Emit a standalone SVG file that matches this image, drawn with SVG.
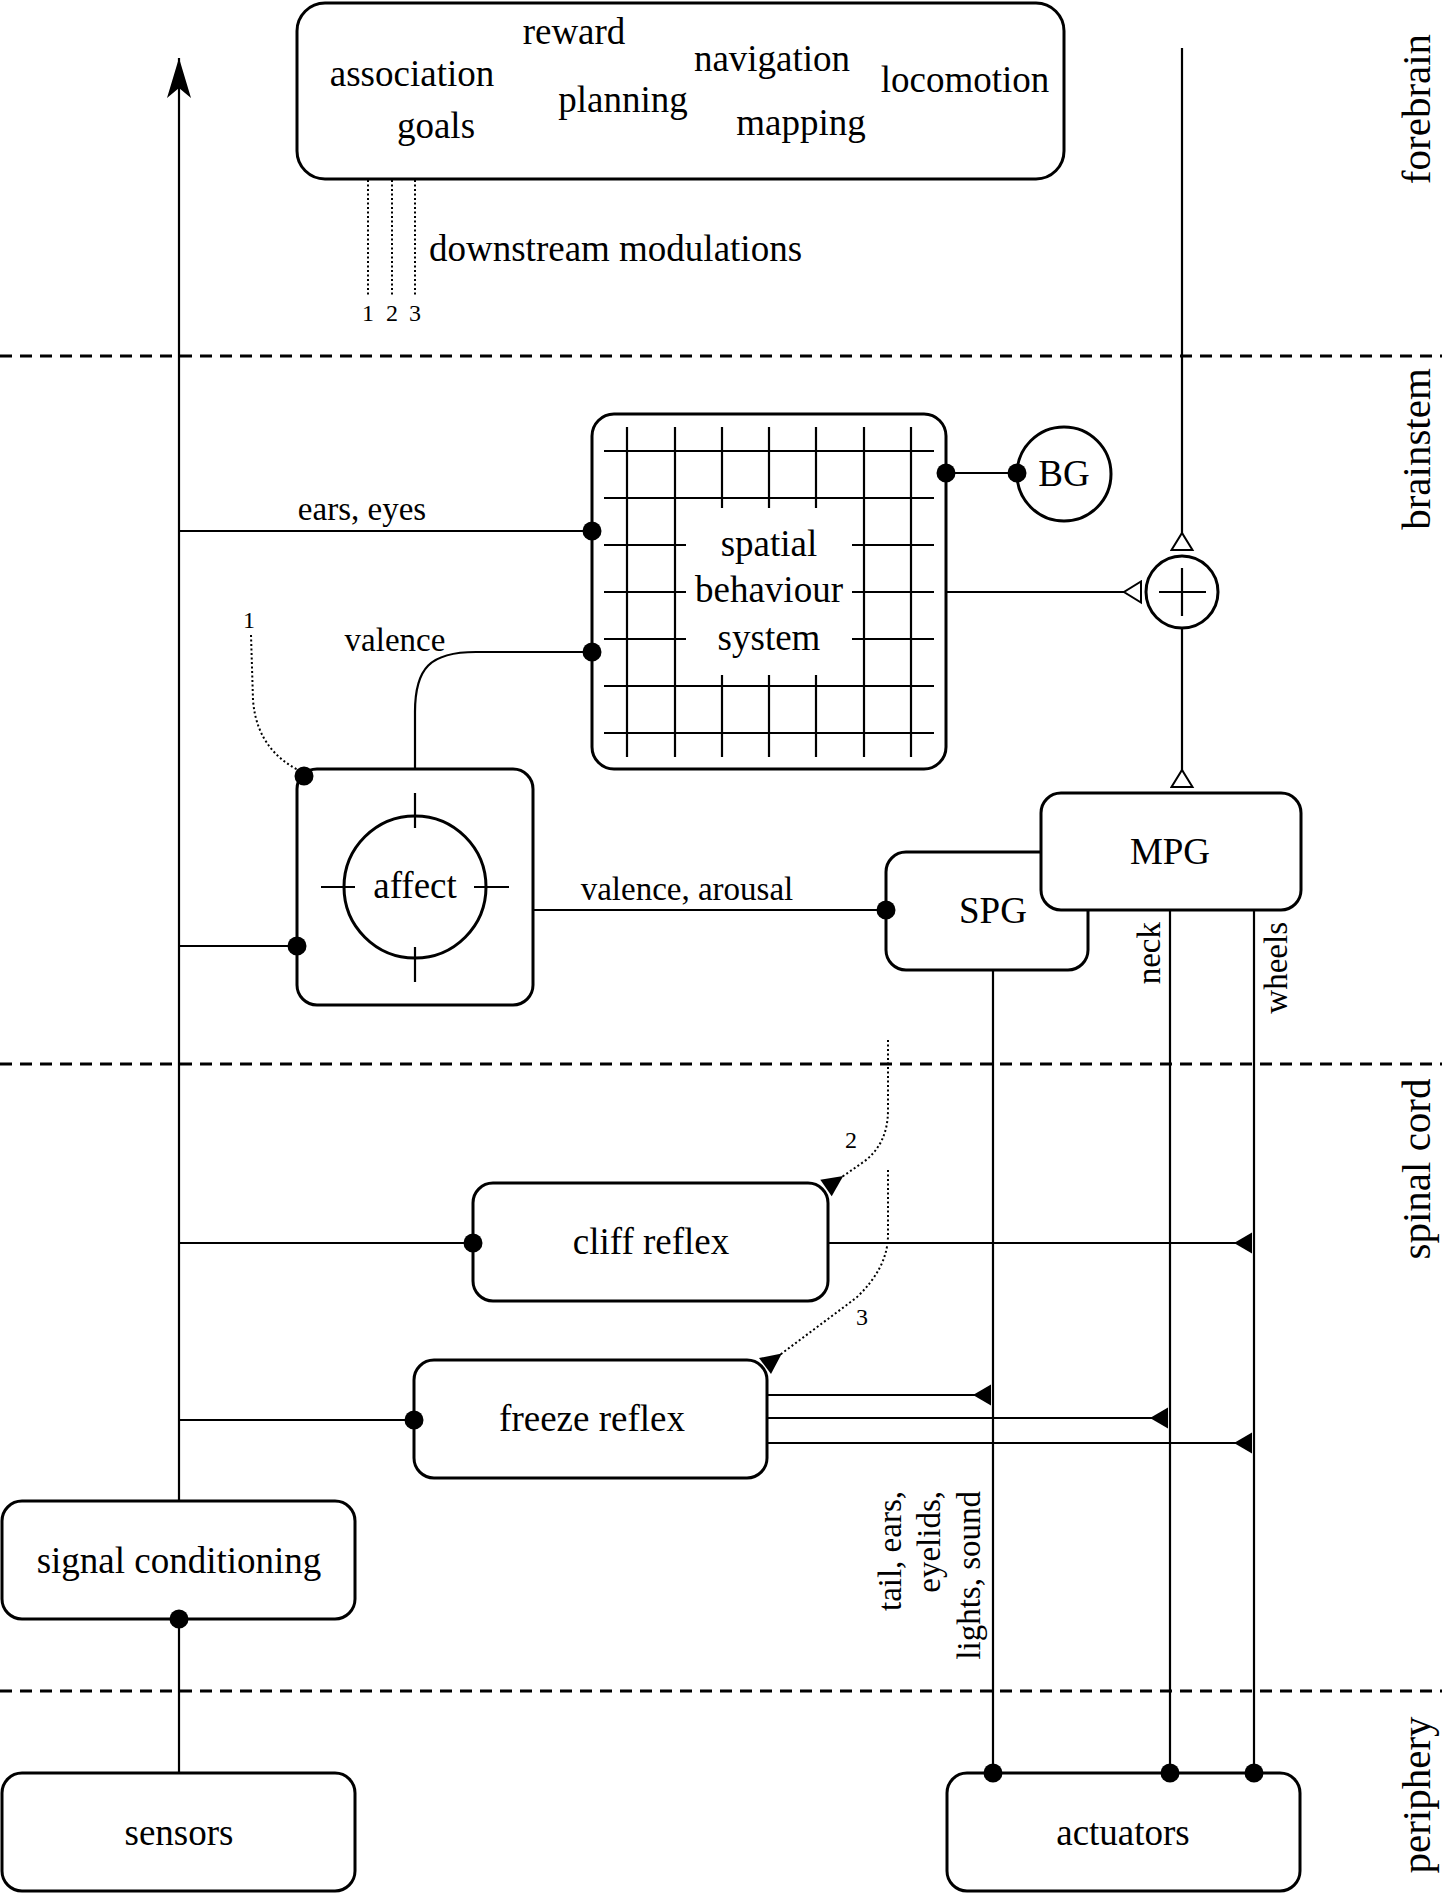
<svg xmlns="http://www.w3.org/2000/svg" width="1442" height="1893" viewBox="0 0 1442 1893">
<style>
text { font-family: "Liberation Serif", "Times New Roman", serif; fill: #000; }
.t { font-size: 37px; text-anchor: middle; }
.e { font-size: 33px; }
.m { text-anchor: middle; }
.en { text-anchor: end; }
.st { text-anchor: start; }
.s { font-size: 24px; text-anchor: middle; }
.side { font-size: 41px; text-anchor: middle; }
.box { fill: #fff; stroke: #000; stroke-width: 3; }
.ln { fill: none; stroke: #000; stroke-width: 2.2; }
.grid { fill: none; stroke: #000; stroke-width: 2.2; }
.sep { fill: none; stroke: #000; stroke-width: 3; stroke-dasharray: 12 8; }
.dt { fill: none; stroke: #000; stroke-width: 2; stroke-dasharray: 2 2.5; }
.dot { fill: #000; }
</style>
<defs>
<marker id="stealth" markerUnits="userSpaceOnUse" viewBox="0 0 40 24" refX="40" refY="12" markerWidth="40" markerHeight="24" orient="auto">
<path d="M40,12 L0,0 L10,12 L0,24 z" fill="#000"/>
</marker>
<marker id="fa" markerUnits="userSpaceOnUse" viewBox="0 0 20 24" refX="19" refY="12" markerWidth="20" markerHeight="24" orient="auto">
<path d="M19,1.5 L19,22.5 L1,12 z" fill="#000"/>
</marker>
<marker id="fd" markerUnits="userSpaceOnUse" viewBox="0 0 24 22" refX="22" refY="11" markerWidth="24" markerHeight="22" orient="auto">
<path d="M22,1 L22,21 L1,11 z" fill="#000"/>
</marker>
<marker id="tri" markerUnits="userSpaceOnUse" viewBox="0 0 21 25" refX="19" refY="12.5" markerWidth="21" markerHeight="25" orient="auto">
<path d="M19,2 L19,23 L2,12.5 z" fill="#fff" stroke="#000" stroke-width="2"/>
</marker>
</defs>

<g id="separators">
<path class="sep" d="M0,356 L1442,356 M0,1064 L1442,1064 M0,1691 L1442,1691"/>
</g>

<g id="region-labels">
<text class="side" transform="translate(1430,109) rotate(-90)">forebrain</text>
<text class="side" transform="translate(1430,449) rotate(-90)">brainstem</text>
<text class="side" transform="translate(1430,1169) rotate(-90)">spinal cord</text>
<text class="side" transform="translate(1430,1795) rotate(-90)">periphery</text>
</g>

<g id="forebrain">
<rect class="box" x="297" y="3" width="767" height="176" rx="28"/>
<text class="t" x="574" y="44">reward</text>
<text class="t" x="412" y="86">association</text>
<text class="t" x="772" y="71">navigation</text>
<text class="t" x="965" y="92">locomotion</text>
<text class="t" x="623" y="112">planning</text>
<text class="t" x="436" y="138">goals</text>
<text class="t" x="801" y="135">mapping</text>
</g>

<g id="spatial-behaviour-system">
<rect class="box" x="592" y="414" width="354" height="355" rx="22"/>
<path class="grid" d="M627,427 L627,757 M675,427 L675,757 M864,427 L864,757 M911,427 L911,757 M722,427 L722,508 M769,427 L769,508 M816,427 L816,508 M722,675 L722,757 M769,675 L769,757 M816,675 L816,757 M604,451 L934,451 M604,498 L934,498 M604,686 L934,686 M604,733 L934,733 M604,545 L686,545 M852,545 L934,545 M604,592 L686,592 M852,592 L934,592 M604,639 L686,639 M852,639 L934,639"/>
<text class="t" x="769" y="556">spatial</text>
<text class="t" x="769" y="602">behaviour</text>
<text class="t" x="769" y="650">system</text>
</g>

<g id="bg">
<circle class="box" cx="1064" cy="474" r="47"/>
<text class="t" x="1064" y="486">BG</text>
</g>

<g id="sum">
<circle class="box" cx="1182" cy="592" r="36"/>
<path class="ln" d="M1159,592 L1206,592 M1182,568 L1182,616"/>
</g>

<g id="affect">
<rect class="box" x="297" y="769" width="236" height="236" rx="20"/>
<circle class="box" cx="415" cy="887" r="71"/>
<path class="ln" d="M415,793 L415,828 M415,947 L415,982 M321,887 L355,887 M474,887 L509,887"/>
<text class="t" x="415" y="898">affect</text>
</g>

<g id="spg">
<rect class="box" x="886" y="852" width="202" height="118" rx="20"/>
<text class="t" x="993" y="923">SPG</text>
</g>

<g id="mpg">
<rect class="box" x="1041" y="793" width="260" height="117" rx="20"/>
<text class="t" x="1170" y="864">MPG</text>
</g>

<g id="cliff-reflex">
<rect class="box" x="473" y="1183" width="355" height="118" rx="20"/>
<text class="t" x="651" y="1254">cliff reflex</text>
</g>

<g id="freeze-reflex">
<rect class="box" x="414" y="1360" width="353" height="118" rx="20"/>
<text class="t" x="592" y="1431">freeze reflex</text>
</g>

<g id="signal-conditioning">
<rect class="box" x="2" y="1501" width="353" height="118" rx="20"/>
<text class="t" x="179" y="1573">signal conditioning</text>
</g>

<g id="sensors">
<rect class="box" x="2" y="1773" width="353" height="118" rx="20"/>
<text class="t" x="179" y="1845">sensors</text>
</g>

<g id="actuators">
<rect class="box" x="947" y="1773" width="353" height="118" rx="20"/>
<text class="t" x="1123" y="1845">actuators</text>
</g>

<g id="connectors">
<path class="ln" d="M179,1501 L179,58" marker-end="url(#stealth)"/>
<path class="ln" d="M179,1773 L179,1619"/>
<path class="ln" d="M179,531 L592,531"/>
<path class="ln" d="M179,946 L297,946"/>
<path class="ln" d="M179,1243 L473,1243"/>
<path class="ln" d="M179,1420 L414,1420"/>
<path class="ln" d="M415,769 L415,712 C415,668 430,652 476,652 L592,652"/>
<path class="ln" d="M533,910 L886,910"/>
<path class="ln" d="M946,473 L1017,473"/>
<path class="ln" d="M946,592 L1141,592" marker-end="url(#tri)"/>
<path class="ln" d="M1182,48 L1182,550" marker-end="url(#tri)"/>
<path class="ln" d="M1182,628 L1182,787" marker-end="url(#tri)"/>
<path class="ln" d="M993,970 L993,1773"/>
<path class="ln" d="M1170,910 L1170,1773"/>
<path class="ln" d="M1254,910 L1254,1773"/>
<path class="ln" d="M828,1243 L1252,1243" marker-end="url(#fa)"/>
<path class="ln" d="M767,1395 L991,1395" marker-end="url(#fa)"/>
<path class="ln" d="M767,1418 L1168,1418" marker-end="url(#fa)"/>
<path class="ln" d="M767,1443 L1252,1443" marker-end="url(#fa)"/>
<path class="dt" d="M368,180 L368,295 M392,180 L392,295 M415,180 L415,295"/>
<path class="dt" d="M251,635 L253,700 C256,740 278,760 300,771"/>
<path class="dt" d="M888,1040 L888,1110 Q888,1145 862,1163 L826,1188" marker-end="url(#fd)"/>
<path class="dt" d="M888,1170 L888,1235 Q888,1268 856,1298 L765,1366" marker-end="url(#fd)"/>
<circle class="dot" cx="179" cy="1619" r="9.5"/>
<circle class="dot" cx="592" cy="531" r="9.5"/>
<circle class="dot" cx="297" cy="946" r="9.5"/>
<circle class="dot" cx="473" cy="1243" r="9.5"/>
<circle class="dot" cx="414" cy="1420" r="9.5"/>
<circle class="dot" cx="592" cy="652" r="9.5"/>
<circle class="dot" cx="886" cy="910" r="9.5"/>
<circle class="dot" cx="946" cy="473" r="9.5"/>
<circle class="dot" cx="1017" cy="473" r="9.5"/>
<circle class="dot" cx="993" cy="1773" r="9.5"/>
<circle class="dot" cx="1170" cy="1773" r="9.5"/>
<circle class="dot" cx="1254" cy="1773" r="9.5"/>
<circle class="dot" cx="304" cy="776" r="9.5"/>
</g>

<g id="edge-labels">
<text class="e m" x="362" y="520">ears, eyes</text>
<text class="e m" x="395" y="651">valence</text>
<text class="e m" x="687" y="900">valence, arousal</text>
<text class="e en" transform="translate(1160,922) rotate(-90)">neck</text>
<text class="e en" transform="translate(1287,922) rotate(-90)">wheels</text>
<text class="e en" transform="translate(901,1491) rotate(-90)">tail, ears,</text>
<text class="e en" transform="translate(940,1491) rotate(-90)">eyelids,</text>
<text class="e en" transform="translate(980,1491) rotate(-90)">lights, sound</text>
<text class="t st" x="429" y="261">downstream modulations</text>
<text class="s" x="368" y="321">1</text>
<text class="s" x="392" y="321">2</text>
<text class="s" x="415" y="321">3</text>
<text class="s" x="249" y="628">1</text>
<text class="s" x="851" y="1148">2</text>
<text class="s" x="862" y="1325">3</text>
</g>
</svg>
